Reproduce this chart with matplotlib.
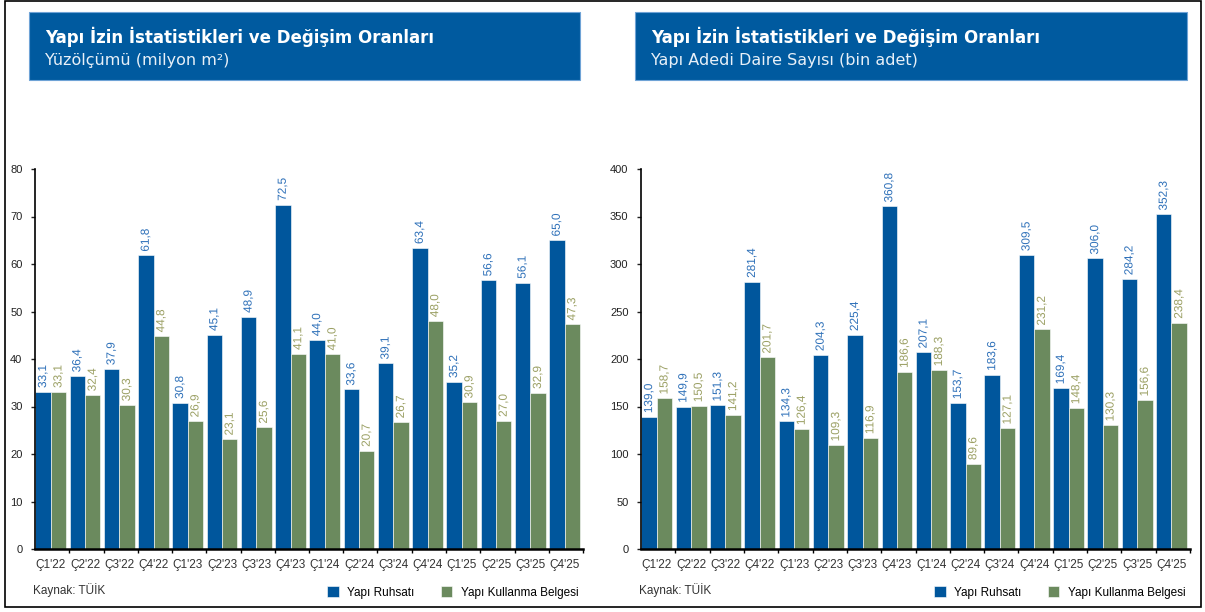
import numpy as np
import matplotlib
matplotlib.use("Agg")
import matplotlib.pyplot as plt
from matplotlib.patches import Rectangle
import matplotlib.patheffects as pe

plt.rcParams['font.family'] = ['Liberation Sans', 'DejaVu Sans']

quarters = ["Ç1'22", "Ç2'22", "Ç3'22", "Ç4'22", "Ç1'23", "Ç2'23", "Ç3'23", "Ç4'23",
            "Ç1'24", "Ç2'24", "Ç3'24", "Ç4'24", "Ç1'25", "Ç2'25", "Ç3'25", "Ç4'25"]

# Yüzölçümü (milyon m2)
area_ruhsat = [33.1, 36.4, 37.9, 61.8, 30.8, 45.1, 48.9, 72.5,
               44.0, 33.6, 39.1, 63.4, 35.2, 56.6, 56.1, 65.0]
area_kullanma = [33.1, 32.4, 30.3, 44.8, 26.9, 23.1, 25.6, 41.1,
                 41.0, 20.7, 26.7, 48.0, 30.9, 27.0, 32.9, 47.3]

# Daire sayısı (bin adet)
daire_ruhsat = [139.0, 149.9, 151.3, 281.4, 134.3, 204.3, 225.4, 360.8,
                207.1, 153.7, 183.6, 309.5, 169.4, 306.0, 284.2, 352.3]
daire_kullanma = [158.7, 150.5, 141.2, 201.7, 126.4, 109.3, 116.9, 186.6,
                  188.3, 89.6, 127.1, 231.2, 148.4, 130.3, 156.6, 238.4]

series_names = ["Yapı Ruhsatı", "Yapı Kullanma Belgesi"]
main_title = "Yapı İzin İstatistikleri ve Değişim Oranları"
subtitles = ["Yüzölçümü (milyon m²)", "Yapı Adedi Daire Sayısı (bin adet)"]

BLUE = "#00569c"
GREEN = "#6b8a5e"
BLUE_TXT = "#2f71b9"
GREEN_TXT = "#9ba064"
BOX = "#005a9f"

W, H = 1205, 612
fig = plt.figure(figsize=(W / 100, H / 100), dpi=100)
fig.patch.set_facecolor("white")

# outer frame
fig.add_artist(Rectangle((5 / W, 5 / H), 1196 / W, 606 / H, transform=fig.transFigure,
                         fill=False, lw=1.2, ec="black"))


def panel(x0, x1, ruhsat, kullanma, ymax, ystep, subtitle):
    # title box
    fig.add_artist(Rectangle((x0 - 6 / W, 1 - 80 / H), (x1 - x0) + 3 / W, 68 / H,
                             transform=fig.transFigure, fc=BOX, ec="#6fa3d6", lw=0.8))
    fig.text(x0 + 10 / W, 1 - 37 / H, main_title, color="white", fontsize=12,
             fontweight="bold", family="DejaVu Sans", va="center")
    fig.text(x0 + 10 / W, 1 - 61 / H, subtitle, color="#e8f0f8", fontsize=11.5,
             family="DejaVu Sans", va="center")

    ax = fig.add_axes([x0, 1 - 549 / H, x1 - x0, 380 / H])
    x = np.arange(len(quarters))
    bw = 0.45
    ax.bar(x - bw / 2, ruhsat, bw, color=BLUE, ec="white", lw=0.4, label=series_names[0])
    ax.bar(x + bw / 2, kullanma, bw, color=GREEN, ec="white", lw=0.4, label=series_names[1])
    stroke = [pe.withStroke(linewidth=1.5, foreground="white")]
    pad = ymax * 0.01
    for xi, v in zip(x, ruhsat):
        ax.text(xi - bw / 2, v + pad, f"{v:.1f}".replace(".", ","), rotation=90, ha="center",
                va="bottom", fontsize=8.5, color=BLUE_TXT, path_effects=stroke)
    for xi, v in zip(x, kullanma):
        ax.text(xi + bw / 2, v + pad, f"{v:.1f}".replace(".", ","), rotation=90, ha="center",
                va="bottom", fontsize=8.5, color=GREEN_TXT, path_effects=stroke)

    ax.set_xlim(-0.46, len(quarters) - 0.46)
    ax.set_ylim(0, ymax)
    ax.set_yticks(np.arange(0, ymax + 1, ystep))
    ax.set_xticks(x)
    ax.set_xticklabels(quarters)
    ax.set_xticks(np.arange(len(quarters)) + 0.54, minor=True)
    for s in ["top", "right"]:
        ax.spines[s].set_visible(False)
    ax.spines["left"].set_linewidth(1.2)
    ax.spines["bottom"].set_linewidth(1.8)
    ax.tick_params(axis="y", labelsize=8, length=3, width=1, pad=6, colors="#222222")
    ax.tick_params(axis="x", which="major", length=0, labelsize=8.5, pad=7, colors="#333333")
    ax.tick_params(axis="x", which="minor", length=3, width=1)

    ax.legend(loc="upper right", bbox_to_anchor=(1.0, -0.085), ncol=2, frameon=False,
              handlelength=1.0, handleheight=1.1, handletextpad=0.7, columnspacing=2.2,
              fontsize=8.5, borderaxespad=0)
    fig.text(x0 - 2 / W, 1 - 590 / H, "Kaynak: TÜİK", fontsize=8.5, color="#333333", va="center")
    return ax


panel(35 / W, 583 / W, area_ruhsat, area_kullanma, 80, 10, subtitles[0])
panel(641 / W, 1190 / W, daire_ruhsat, daire_kullanma, 400, 50, subtitles[1])

fig.savefig("out.png", dpi=100)
